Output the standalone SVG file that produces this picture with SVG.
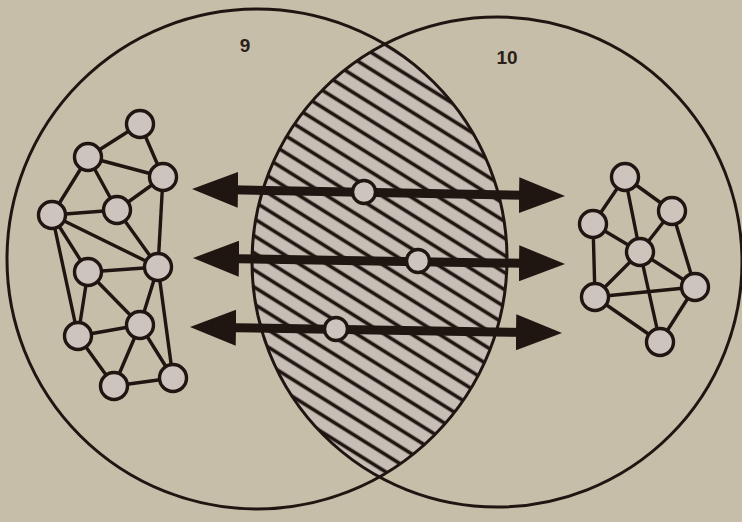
<svg xmlns="http://www.w3.org/2000/svg" width="742" height="522" viewBox="0 0 742 522">
<style>
.ring{fill:none;stroke:#1f1612;stroke-width:3}
.edge{stroke:#1f1612;stroke-width:3.4;stroke-linecap:round}
.node{fill:#cdc4bd;stroke:#1f1612;stroke-width:3.4}
.arrow{stroke:#1f1612;stroke-width:9;fill:none}
.lbl{font-family:"Liberation Sans",Arial,sans-serif;font-size:19px;font-weight:bold;fill:#2a201b;text-anchor:middle}
</style>
<defs>
<clipPath id="c1"><circle cx="257" cy="259" r="250"/></clipPath>
<clipPath id="c2"><circle cx="497" cy="262" r="245"/></clipPath>
<pattern id="hatch" patternUnits="userSpaceOnUse" width="20" height="14.5" patternTransform="rotate(32)">
<rect width="20" height="14.5" fill="#c7bfb6"/>
<line x1="-1" y1="7.25" x2="21" y2="7.25" stroke="#1f1612" stroke-width="3.6"/>
</pattern>
<marker id="ah" viewBox="0 0 46 36" markerWidth="46" markerHeight="36" refX="20" refY="18" orient="auto-start-reverse" markerUnits="userSpaceOnUse">
<path d="M0,0 L46,18 L0,36 Z" fill="#1f1612"/>
</marker>
</defs>
<rect width="742" height="522" fill="#c6bea9"/>
<g id="lens" clip-path="url(#c1)"><g clip-path="url(#c2)"><rect x="240" y="30" width="280" height="460" fill="url(#hatch)"/></g></g>
<g id="set9"><circle class="ring" cx="257" cy="259" r="250"/><text class="lbl" x="245" y="52">9</text></g>
<g id="set10"><circle class="ring" cx="497" cy="262" r="245"/><text class="lbl" x="507" y="64">10</text></g>
<g id="connectors">
<g class="edge">
<line x1="140" y1="124" x2="88" y2="157"/>
<line x1="140" y1="124" x2="163" y2="177"/>
<line x1="88" y1="157" x2="163" y2="177"/>
<line x1="88" y1="157" x2="52" y2="215"/>
<line x1="88" y1="157" x2="117" y2="210"/>
<line x1="163" y1="177" x2="117" y2="210"/>
<line x1="52" y1="215" x2="117" y2="210"/>
<line x1="52" y1="215" x2="158" y2="267"/>
<line x1="117" y1="210" x2="158" y2="267"/>
<line x1="163" y1="177" x2="158" y2="267"/>
<line x1="52" y1="215" x2="88" y2="272"/>
<line x1="52" y1="215" x2="78" y2="336"/>
<line x1="88" y1="272" x2="158" y2="267"/>
<line x1="88" y1="272" x2="78" y2="336"/>
<line x1="88" y1="272" x2="140" y2="325"/>
<line x1="158" y1="267" x2="140" y2="325"/>
<line x1="158" y1="267" x2="173" y2="378"/>
<line x1="78" y1="336" x2="140" y2="325"/>
<line x1="78" y1="336" x2="114" y2="386"/>
<line x1="140" y1="325" x2="114" y2="386"/>
<line x1="140" y1="325" x2="173" y2="378"/>
<line x1="114" y1="386" x2="173" y2="378"/>
<line x1="625" y1="177" x2="593" y2="224"/>
<line x1="625" y1="177" x2="672" y2="211"/>
<line x1="625" y1="177" x2="640" y2="252"/>
<line x1="593" y1="224" x2="640" y2="252"/>
<line x1="672" y1="211" x2="640" y2="252"/>
<line x1="672" y1="211" x2="695" y2="287"/>
<line x1="593" y1="224" x2="595" y2="297"/>
<line x1="640" y1="252" x2="595" y2="297"/>
<line x1="640" y1="252" x2="695" y2="287"/>
<line x1="640" y1="252" x2="660" y2="342"/>
<line x1="595" y1="297" x2="695" y2="287"/>
<line x1="595" y1="297" x2="660" y2="342"/>
<line x1="695" y1="287" x2="660" y2="342"/>
</g>
<line class="arrow" x1="218" y1="189.5" x2="539" y2="195.5" marker-start="url(#ah)" marker-end="url(#ah)"/>
<line class="arrow" x1="219" y1="258.4" x2="539" y2="263.6" marker-start="url(#ah)" marker-end="url(#ah)"/>
<line class="arrow" x1="216" y1="327.4" x2="536" y2="332.6" marker-start="url(#ah)" marker-end="url(#ah)"/>
</g>
<g id="n1"><circle class="node" cx="140" cy="124" r="13.5"/></g>
<g id="n2"><circle class="node" cx="88" cy="157" r="13.5"/></g>
<g id="n3"><circle class="node" cx="163" cy="177" r="13.5"/></g>
<g id="n4"><circle class="node" cx="52" cy="215" r="13.5"/></g>
<g id="n5"><circle class="node" cx="117" cy="210" r="13.5"/></g>
<g id="n6"><circle class="node" cx="158" cy="267" r="13.5"/></g>
<g id="n7"><circle class="node" cx="88" cy="272" r="13.5"/></g>
<g id="n8"><circle class="node" cx="140" cy="325" r="13.5"/></g>
<g id="n9"><circle class="node" cx="78" cy="336" r="13.5"/></g>
<g id="n10"><circle class="node" cx="114" cy="386" r="13.5"/></g>
<g id="n11"><circle class="node" cx="173" cy="378" r="13.5"/></g>
<g id="m1"><circle class="node" cx="625" cy="177" r="13.5"/></g>
<g id="m2"><circle class="node" cx="672" cy="211" r="13.5"/></g>
<g id="m3"><circle class="node" cx="593" cy="224" r="13.5"/></g>
<g id="m4"><circle class="node" cx="640" cy="252" r="13.5"/></g>
<g id="m5"><circle class="node" cx="695" cy="287" r="13.5"/></g>
<g id="m6"><circle class="node" cx="595" cy="297" r="13.5"/></g>
<g id="m7"><circle class="node" cx="660" cy="342" r="13.5"/></g>
<g id="a1"><circle class="node" cx="364" cy="192" r="11.5"/></g>
<g id="a2"><circle class="node" cx="418" cy="261" r="11.5"/></g>
<g id="a3"><circle class="node" cx="336" cy="329" r="11.5"/></g>
</svg>
